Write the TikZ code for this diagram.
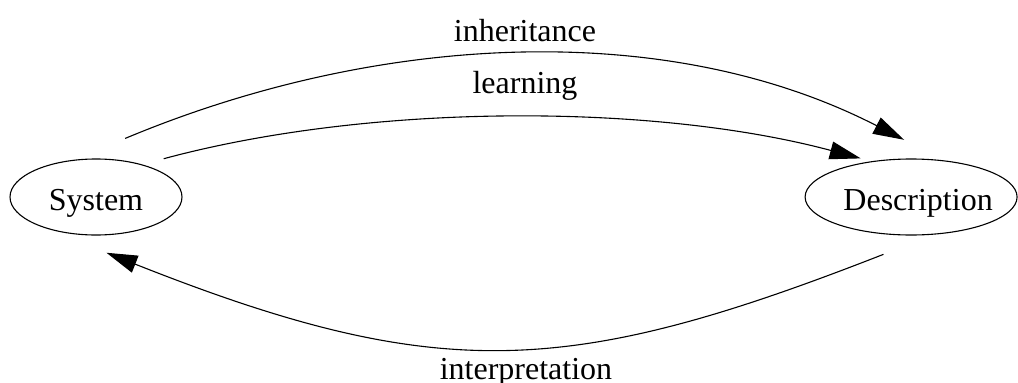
\documentclass[tikz,border=0pt]{standalone}
\usepackage{fontspec}
\setmainfont{Liberation Serif}
\usetikzlibrary{arrows.meta,positioning,shapes.geometric}

\begin{document}
\begin{tikzpicture}[
  x=1pt,y=-1pt,
  state/.style={ellipse,draw,line width=1.1pt,minimum height=76pt,inner sep=0pt,
    text height=30pt,text depth=4pt,font=\fontsize{32}{38}\selectfont},
  elabel/.style={anchor=base,inner sep=0pt,font=\fontsize{32}{38}\selectfont},
  edge/.style={line width=1.1pt,-{Triangle[length=31pt,width=18pt]}}]

  \useasboundingbox (0,0) rectangle (1018,383);

  \node[state,minimum width=172pt] (sys) at (96,197) {System};
  \node[state,minimum width=212pt,inner xsep=-10pt,right=622pt of sys] (desc) {\hspace*{14pt}Description};

  % upper edges, System -> Description
  \draw[edge,shorten <=55pt,shorten >=45pt] (sys.120.7) .. controls (377,33) and (667,18) .. (desc.48.4);
  \draw[edge,shorten <=22pt,shorten >=11pt] (sys.35.3) .. controls (370,103) and (653,103) .. (desc.138.4);
  % lower edge, back again
  \draw[edge,shorten <=54pt,shorten >=74pt] (desc.301.1) .. controls (570,377) and (440,385) .. (sys.206.4);

  \node[elabel] (inh) at (525,41.5) {inheritance};
  \node[elabel] (lrn) at (525,93.5) {learning};
  \node[elabel] (int) at (526,379) {interpretation};

\end{tikzpicture}
\end{document}
